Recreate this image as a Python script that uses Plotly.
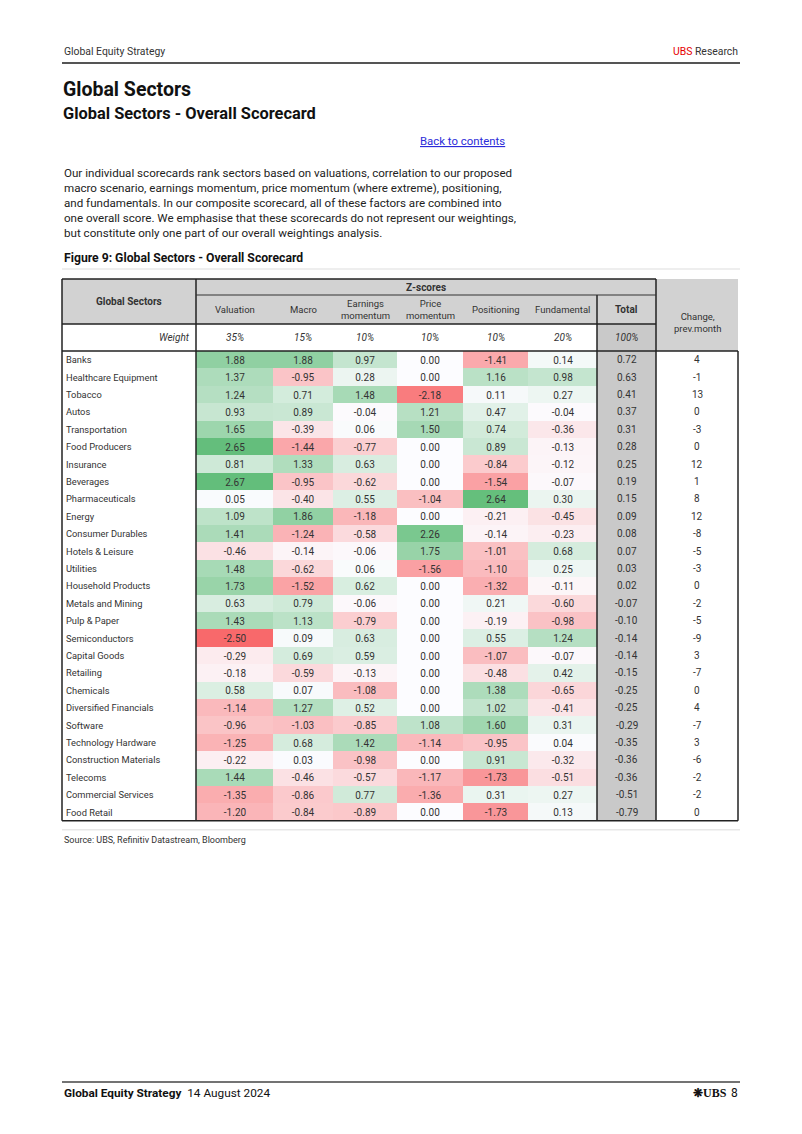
import plotly.graph_objects as go

# ---------------- data ----------------
sectors = ["Banks", "Healthcare Equipment", "Tobacco", "Autos", "Transportation", "Food Producers",
           "Insurance", "Beverages", "Pharmaceuticals", "Energy", "Consumer Durables", "Hotels & Leisure",
           "Utilities", "Household Products", "Metals and Mining", "Pulp & Paper", "Semiconductors",
           "Capital Goods", "Retailing", "Chemicals", "Diversified Financials", "Software",
           "Technology Hardware", "Construction Materials", "Telecoms", "Commercial Services", "Food Retail"]
factors = ["Valuation", "Macro", "Earnings<br>momentum", "Price<br>momentum", "Positioning", "Fundamental"]
weights = ["35%", "15%", "10%", "10%", "10%", "20%"]
total_weight = "100%"

valuation = [1.88, 1.37, 1.24, 0.93, 1.65, 2.65, 0.81, 2.67, 0.05, 1.09, 1.41, -0.46, 1.48, 1.73, 0.63,
             1.43, -2.50, -0.29, -0.18, 0.58, -1.14, -0.96, -1.25, -0.22, 1.44, -1.35, -1.20]
macro = [1.88, -0.95, 0.71, 0.89, -0.39, -1.44, 1.33, -0.95, -0.40, 1.86, -1.24, -0.14, -0.62, -1.52, 0.79,
         1.13, 0.09, 0.69, -0.59, 0.07, 1.27, -1.03, 0.68, 0.03, -0.46, -0.86, -0.84]
earnings_mom = [0.97, 0.28, 1.48, -0.04, 0.06, -0.77, 0.63, -0.62, 0.55, -1.18, -0.58, -0.06, 0.06, 0.62, -0.06,
                -0.79, 0.63, 0.59, -0.13, -1.08, 0.52, -0.85, 1.42, -0.98, -0.57, 0.77, -0.89]
price_mom = [0.00, 0.00, -2.18, 1.21, 1.50, 0.00, 0.00, 0.00, -1.04, 0.00, 2.26, 1.75, -1.56, 0.00, 0.00,
             0.00, 0.00, 0.00, 0.00, 0.00, 0.00, 1.08, -1.14, 0.00, -1.17, -1.36, 0.00]
positioning = [-1.41, 1.16, 0.11, 0.47, 0.74, 0.89, -0.84, -1.54, 2.64, -0.21, -0.14, -1.01, -1.10, -1.32, 0.21,
               -0.19, 0.55, -1.07, -0.48, 1.38, 1.02, 1.60, -0.95, 0.91, -1.73, 0.31, -1.73]
fundamental = [0.14, 0.98, 0.27, -0.04, -0.36, -0.13, -0.12, -0.07, 0.30, -0.45, -0.23, 0.68, 0.25, -0.11, -0.60,
               -0.98, 1.24, -0.07, 0.42, -0.65, -0.41, 0.31, 0.04, -0.32, -0.51, 0.27, 0.13]
total = [0.72, 0.63, 0.41, 0.37, 0.31, 0.28, 0.25, 0.19, 0.15, 0.09, 0.08, 0.07, 0.03, 0.02, -0.07,
         -0.10, -0.14, -0.14, -0.15, -0.25, -0.25, -0.29, -0.35, -0.36, -0.36, -0.51, -0.79]
change = [4, -1, 13, 0, -3, 0, 12, 1, 8, 12, -8, -5, -3, 0, -2, -5, -9, 3, -7, 0, 4, -7, 3, -6, -2, -2, 0]

paragraph = [
    "Our individual scorecards rank sectors based on valuations, correlation to our proposed",
    "macro scenario, earnings momentum, price momentum (where extreme), positioning,",
    "and fundamentals. In our composite scorecard, all of these factors are combined into",
    "one overall score. We emphasise that these scorecards do not represent our weightings,",
    "but constitute only one part of our overall weightings analysis.",
]

# ---------------- layout geometry (page pixels) ----------------
W, H = 802, 1134
OFF = 8  # page body margin in which the figure div sits
FONT = "Roboto, Open Sans, sans-serif"
TXT = "#333333"
col_edges = [196, 273, 333, 397, 463, 528, 597]   # factor columns
TOT_X0, TOT_X1 = 597, 656
CHG_X0, CHG_X1 = 656, 738
TL, TOP, ZROW, HDR, WROW = 62, 279, 295, 324, 351
ROW_H = 17.4
n = len(sectors)
row_edges = [WROW + ROW_H * i for i in range(n + 1)]
BOT = row_edges[-1]
row_mid = [(row_edges[i] + row_edges[i + 1]) / 2 for i in range(n)]
col_mid = [(col_edges[i] + col_edges[i + 1]) / 2 for i in range(len(col_edges) - 1)]

cols = [valuation, macro, earnings_mom, price_mom, positioning, fundamental]
z = [[c[i] for c in cols] for i in range(n)]
text = [[f"{v:.2f}" for v in row] for row in z]
zmin = min(min(r) for r in z)
zmax = max(max(r) for r in z)
mid = (0 - zmin) / (zmax - zmin)

fig = go.Figure()
fig.add_trace(go.Heatmap(
    z=z, x=col_edges, y=row_edges, text=text, texttemplate="%{text}",
    textfont=dict(family=FONT, size=10, color=TXT),
    colorscale=[[0, "#f8696b"], [mid, "#fcfcff"], [1, "#63be7b"]],
    zmin=zmin, zmax=zmax, showscale=False, hoverinfo="skip", xgap=0, ygap=0,
))

shapes = []
def rect(x0, y0, x1, y1, color, layer="below"):
    shapes.append(dict(type="rect", xref="x", yref="y", x0=x0, y0=y0, x1=x1, y1=y1,
                       fillcolor=color, line=dict(width=0), layer=layer))
def line(x0, y0, x1, y1, color="#222222", width=1.5):
    shapes.append(dict(type="line", xref="x", yref="y", x0=x0, y0=y0, x1=x1, y1=y1,
                       line=dict(color=color, width=width), layer="above"))

GRAY = "#d2d2d2"
rect(TL, TOP, TOT_X1, HDR, GRAY)
rect(CHG_X0, TOP, CHG_X1, WROW, GRAY)
rect(TOT_X0, HDR, TOT_X1, BOT, "#c9c9c9")

# page lines
line(62, 63, 740, 63, "#555555", 2)
line(62, 269, 740, 269, "#e8e8e8", 1.5)
line(62, BOT + 9, 740, BOT + 9, "#e8e8e8", 1.5)
line(62, 1082, 740, 1082, "#444444", 1.5)
# table grid
line(TL, TOP, TOT_X1, TOP)
line(TL, TOP, TL, BOT)
line(TOT_X1, TOP, TOT_X1, BOT)
line(col_edges[0], TOP, col_edges[0], BOT)
line(TOT_X0, ZROW, TOT_X0, BOT)
line(col_edges[0], ZROW, TOT_X1, ZROW, "#333333", 1)
line(TL, HDR, TOT_X1, HDR)
line(TL, WROW, CHG_X1, WROW)
line(TL, BOT, CHG_X1, BOT)
line(CHG_X1, WROW, CHG_X1, BOT)

ann = []
def txt(x, y, s, size=10, xa="center", color=TXT, family=FONT):
    ann.append(dict(x=x, y=y, xref="x", yref="y", text=s, showarrow=False, xanchor=xa,
                    yanchor="middle", font=dict(family=family, size=size, color=color)))

# page header
txt(62, 51, "Global Equity Strategy", 10.4, "left")
txt(740, 51, "<span style='color:#e60000'>UBS</span> Research", 10.4, "right")
txt(61, 89, "<b>Global Sectors</b>", 19.5, "left", "#111111")
txt(61, 113, "<b>Global Sectors - Overall Scorecard</b>", 16.4, "left", "#111111")
txt(507, 141, "<u>Back to contents</u>", 11.4, "right", "#2b2bd9")
for i, s in enumerate(paragraph):
    txt(62, 173 + 15 * i, s, 11.6, "left", "#222222")
txt(62, 258, "<b>Figure 9: Global Sectors - Overall Scorecard</b>", 12.2, "left", "#111111")

# table header
txt((TL + col_edges[0]) / 2, 301, "<b>Global Sectors</b>", 10)
txt((col_edges[0] + TOT_X1) / 2, 287, "<b>Z-scores</b>", 10)
for cm, f in zip(col_mid, factors):
    txt(cm, 309.5, f, 9.5)
txt((TOT_X0 + TOT_X1) / 2, 309.5, "<b>Total</b>", 10)
txt((CHG_X0 + CHG_X1) / 2, 322, "Change,<br>prev.month", 9.5)
txt(col_edges[0] - 4, 337.5, "<i>Weight</i>", 10, "right")
for cm, w in zip(col_mid, weights):
    txt(cm, 337.5, f"<i>{w}</i>", 10)
txt((TOT_X0 + TOT_X1) / 2, 337.5, f"<i>{total_weight}</i>", 10)

# table body text
for i in range(n):
    txt(TL + 2, row_mid[i], sectors[i], 9.3, "left")
    txt((TOT_X0 + TOT_X1) / 2, row_mid[i], f"{total[i]:.2f}", 10)
    txt((CHG_X0 + CHG_X1) / 2, row_mid[i], f"{change[i]}", 10)

txt(62, 840, "Source: UBS, Refinitiv Datastream, Bloomberg", 9.0, "left")

# footer
txt(62, 1093, "<b>Global Equity Strategy</b>  14 August 2024", 11.8, "left", "#111111")
txt(740, 1093, "8", 12, "right", "#111111")
txt(729, 1093, "<b>❋UBS</b>", 12, "right", "#111111", "Liberation Serif, DejaVu Serif, serif")

fig.update_layout(
    width=W - OFF, height=H - OFF, margin=dict(l=0, r=0, t=0, b=0),
    paper_bgcolor="white", plot_bgcolor="white",
    xaxis=dict(range=[OFF, W], visible=False, fixedrange=True),
    yaxis=dict(range=[H, OFF], visible=False, fixedrange=True),
    shapes=shapes, annotations=ann, showlegend=False,
)
fig.write_html("out.html")
